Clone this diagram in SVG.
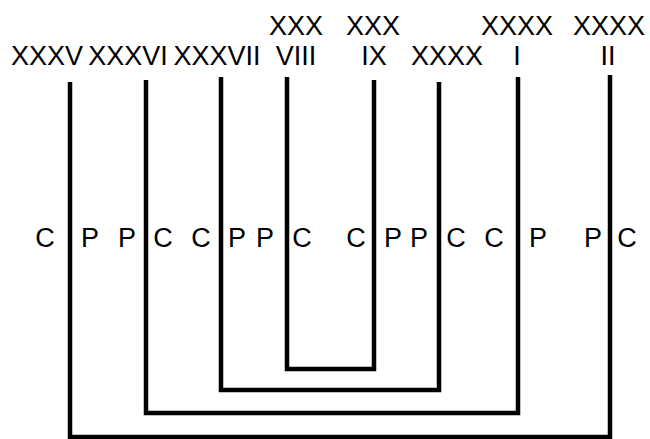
<svg xmlns="http://www.w3.org/2000/svg" width="650" height="439" viewBox="0 0 650 439">
<style>
text{font-family:"Liberation Sans",Arial,sans-serif;font-size:27px;fill:#000;text-anchor:middle}
.br{fill:none;stroke:#000;stroke-width:4.5;stroke-linejoin:miter;stroke-linecap:butt}
</style>
<rect width="650" height="439" fill="#fff"/>
<g id="node-35"><text x="47" y="65">XXXV</text></g>
<g id="node-36"><text x="128" y="65">XXXVI</text></g>
<g id="node-37"><text x="217" y="65">XXXVII</text></g>
<g id="node-38"><text x="296" y="35">XXX</text><text x="296" y="65">VIII</text></g>
<g id="node-39"><text x="373" y="35">XXX</text><text x="374" y="65">IX</text></g>
<g id="node-40"><text x="447" y="65">XXXX</text></g>
<g id="node-41"><text x="517" y="35">XXXX</text><text x="517" y="65">I</text></g>
<g id="node-42"><text x="609" y="35">XXXX</text><text x="608" y="65">II</text></g>
<g id="connectors">
<path class="br" d="M287,77 V369 H374 V80"/>
<path class="br" d="M221,77 V390 H439 V82"/>
<path class="br" d="M146,80 V413 H518 V77"/>
<path class="br" d="M70,82 V437 H610 V75"/>
</g>
<g id="side-labels">
<text x="45" y="247">C</text>
<text x="90" y="247">P</text>
<text x="127" y="247">P</text>
<text x="163" y="247">C</text>
<text x="201" y="247">C</text>
<text x="237" y="247">P</text>
<text x="265" y="247">P</text>
<text x="302" y="247">C</text>
<text x="356" y="247">C</text>
<text x="393" y="247">P</text>
<text x="419" y="247">P</text>
<text x="456" y="247">C</text>
<text x="494" y="247">C</text>
<text x="538" y="247">P</text>
<text x="593" y="247">P</text>
<text x="627" y="247">C</text>
</g>
</svg>
